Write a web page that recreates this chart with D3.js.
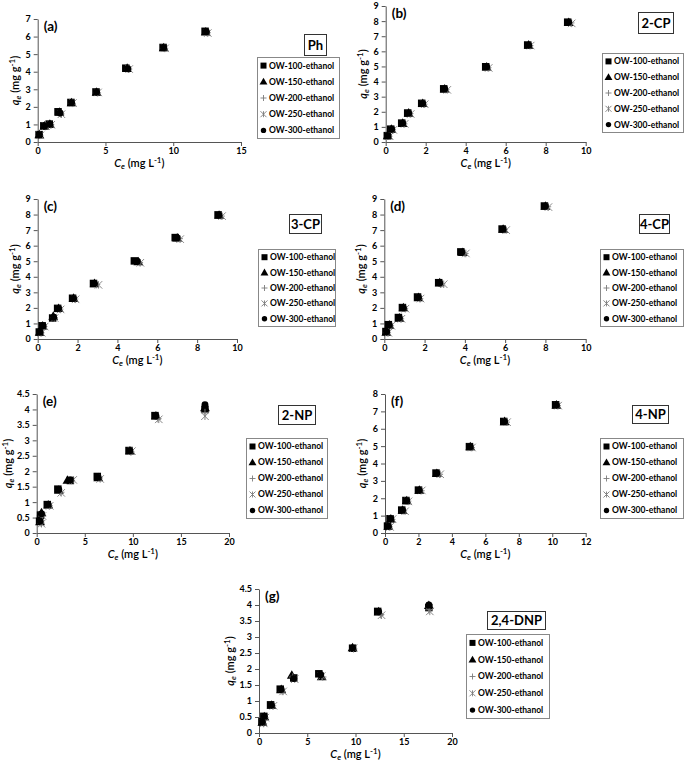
<!DOCTYPE html>
<html><head><meta charset="utf-8">
<script src="https://cdn.jsdelivr.net/npm/d3@7"></script>
<style>
html,body{margin:0;padding:0;background:#fff;}
svg{display:block;font-family:Lato,"Liberation Sans",Arial,sans-serif;}
</style></head>
<body>
<svg id="chart" width="685" height="761"></svg>
<script>
// ---------- data ----------
const seriesNames = ["OW-100-ethanol","OW-150-ethanol","OW-200-ethanol","OW-250-ethanol","OW-300-ethanol"];
const seriesSymbols = ["square","triangle","plus","star","circle"];

// Ph
const ph100 = [[0.1,0.42],[0.45,0.92],[0.85,1.02],[1.5,1.72],[2.45,2.25],[4.3,2.85],[6.5,4.2],[9.25,5.38],[12.35,6.3]];
const ph150 = [[0.12,0.4],[0.5,0.9],[0.9,1.0],[1.6,1.68],[2.5,2.22],[4.35,2.82],[6.6,4.18],[9.3,5.35],[12.4,6.25]];
const ph200 = [[0.15,0.38],[0.55,0.88],[0.95,0.98],[1.7,1.6],[2.55,2.2],[4.4,2.8],[6.7,4.15],[9.35,5.33],[12.5,6.22]];
const ph250 = [[0.2,0.38],[0.6,0.9],[1.0,0.98],[1.75,1.58],[2.6,2.22],[4.45,2.82],[6.75,4.15],[9.4,5.33],[12.55,6.2]];
const ph300 = [[0.12,0.41],[0.5,0.9],[0.9,1.01],[1.65,1.65],[2.5,2.24],[4.35,2.84],[6.65,4.17],[9.3,5.36],[12.45,6.27]];
// 2-CP
const cp2_100 = [[0.08,0.42],[0.25,0.85],[0.8,1.25],[1.1,1.92],[1.8,2.56],[2.9,3.52],[5.0,4.98],[7.1,6.42],[9.1,7.93]];
const cp2_150 = [[0.1,0.4],[0.28,0.83],[0.85,1.22],[1.15,1.9],[1.85,2.53],[2.95,3.5],[5.05,4.95],[7.15,6.4],[9.15,7.9]];
const cp2_200 = [[0.15,0.38],[0.33,0.8],[0.9,1.2],[1.2,1.88],[1.9,2.5],[3.0,3.47],[5.1,4.92],[7.2,6.38],[9.25,7.88]];
const cp2_250 = [[0.2,0.38],[0.38,0.8],[0.95,1.2],[1.25,1.85],[1.95,2.5],[3.08,3.45],[5.15,4.9],[7.25,6.38],[9.3,7.85]];
const cp2_300 = [[0.12,0.41],[0.3,0.84],[0.85,1.24],[1.15,1.91],[1.85,2.55],[2.95,3.51],[5.05,4.97],[7.15,6.41],[9.15,7.92]];
// 3-CP
const cp3_100 = [[0.08,0.45],[0.22,0.85],[0.75,1.35],[1.0,1.97],[1.75,2.62],[2.8,3.57],[4.85,5.02],[6.9,6.52],[9.05,7.98]];
const cp3_150 = [[0.1,0.42],[0.25,0.83],[0.78,1.45],[1.05,1.95],[1.8,2.6],[2.85,3.55],[5.05,4.95],[7.0,6.48],[9.1,7.95]];
const cp3_200 = [[0.15,0.4],[0.3,0.8],[0.82,1.38],[1.1,1.92],[1.85,2.57],[2.95,3.5],[5.1,4.92],[7.1,6.45],[9.2,7.9]];
const cp3_250 = [[0.2,0.4],[0.35,0.8],[0.85,1.35],[1.15,1.9],[1.9,2.55],[3.05,3.48],[5.15,4.9],[7.15,6.42],[9.25,7.9]];
const cp3_300 = [[0.12,0.44],[0.27,0.85],[0.8,1.4],[1.05,1.96],[1.8,2.6],[2.85,3.56],[5.0,4.98],[7.0,6.5],[9.1,7.96]];
// 4-CP
const cp4_100 = [[0.08,0.48],[0.2,0.92],[0.7,1.38],[0.9,2.02],[1.65,2.7],[2.7,3.62],[3.8,5.6],[5.85,7.07],[7.95,8.55]];
const cp4_150 = [[0.1,0.42],[0.25,0.88],[0.75,1.33],[0.95,2.0],[1.7,2.65],[2.75,3.6],[3.9,5.55],[5.9,7.05],[8.0,8.52]];
const cp4_200 = [[0.15,0.4],[0.3,0.85],[0.8,1.3],[1.0,1.97],[1.75,2.6],[2.85,3.55],[4.0,5.5],[5.95,7.02],[8.1,8.5]];
const cp4_250 = [[0.2,0.4],[0.35,0.85],[0.85,1.3],[1.05,1.95],[1.8,2.6],[2.95,3.52],[4.05,5.5],[6.05,7.0],[8.15,8.48]];
const cp4_300 = [[0.12,0.46],[0.25,0.9],[0.75,1.36],[0.95,2.0],[1.7,2.67],[2.75,3.6],[3.85,5.58],[5.9,7.06],[8.0,8.53]];
// 2-NP
const np2_100 = [[0.3,0.38],[0.4,0.58],[1.1,0.92],[2.2,1.42],[3.5,1.7],[6.3,1.83],[9.6,2.67],[12.3,3.8],[17.5,4.0]];
const np2_150 = [[0.35,0.36],[0.5,0.65],[1.2,0.9],[2.3,1.38],[3.2,1.7],[6.4,1.78],[9.7,2.65],[12.4,3.78],[17.5,4.05]];
const np2_200 = [[0.45,0.32],[0.55,0.55],[1.3,0.88],[2.5,1.32],[3.6,1.7],[6.5,1.78],[9.8,2.62],[12.6,3.7],[17.5,3.9]];
const np2_250 = [[0.5,0.3],[0.6,0.55],[1.35,0.88],[2.55,1.3],[3.8,1.72],[6.6,1.75],[9.9,2.65],[12.7,3.68],[17.5,3.78]];
const np2_300 = [[0.35,0.38],[0.5,0.62],[1.2,0.92],[2.3,1.4],[3.5,1.72],[6.4,1.8],[9.7,2.66],[12.4,3.79],[17.5,4.15]];
// 4-NP
const np4_100 = [[0.15,0.4],[0.3,0.82],[1.0,1.32],[1.25,1.87],[2.0,2.47],[3.05,3.45],[5.05,4.97],[7.1,6.42],[10.2,7.38]];
const np4_150 = [[0.2,0.38],[0.35,0.8],[1.05,1.3],[1.3,1.85],[2.05,2.45],[3.1,3.42],[5.1,4.95],[7.15,6.4],[10.25,7.35]];
const np4_200 = [[0.25,0.35],[0.4,0.78],[1.1,1.28],[1.35,1.83],[2.15,2.43],[3.25,3.38],[5.15,4.92],[7.25,6.38],[10.3,7.33]];
const np4_250 = [[0.3,0.35],[0.45,0.8],[1.2,1.25],[1.4,1.82],[2.2,2.45],[3.3,3.38],[5.2,4.92],[7.3,6.38],[10.35,7.33]];
const np4_300 = [[0.2,0.39],[0.35,0.82],[1.05,1.31],[1.3,1.86],[2.05,2.46],[3.1,3.44],[5.1,4.96],[7.15,6.41],[10.25,7.36]];
// 2,4-DNP
const dnp_100 = [[0.3,0.35],[0.5,0.52],[1.2,0.88],[2.2,1.37],[3.6,1.72],[6.2,1.85],[9.7,2.65],[12.3,3.8],[17.6,3.92]];
const dnp_150 = [[0.35,0.33],[0.55,0.5],[1.3,0.86],[2.3,1.35],[3.4,1.8],[6.5,1.75],[9.7,2.66],[12.4,3.78],[17.6,3.98]];
const dnp_200 = [[0.45,0.3],[0.6,0.48],[1.4,0.85],[2.4,1.3],[3.5,1.75],[6.6,1.75],[9.8,2.63],[12.6,3.7],[17.6,3.85]];
const dnp_250 = [[0.5,0.3],[0.65,0.48],[1.5,0.85],[2.5,1.3],[3.7,1.68],[6.5,1.78],[9.8,2.65],[12.7,3.68],[17.7,3.8]];
const dnp_300 = [[0.35,0.34],[0.55,0.52],[1.3,0.87],[2.3,1.36],[3.6,1.7],[6.4,1.82],[9.7,2.66],[12.4,3.79],[17.6,4.0]];

const panelLabels = ["(a)","(b)","(c)","(d)","(e)","(f)","(g)"];
const compoundNames = ["Ph","2-CP","3-CP","4-CP","2-NP","4-NP","2,4-DNP"];
const xMaxes = [15,10,10,10,20,12,20];
const xSteps = [5,2,2,2,5,2,5];
const yMaxes = [7,9,9,9,4.5,8,4.5];
const ySteps = [1,1,1,1,0.5,1,0.5];
const panelData = [
  [ph100,ph150,ph200,ph250,ph300],
  [cp2_100,cp2_150,cp2_200,cp2_250,cp2_300],
  [cp3_100,cp3_150,cp3_200,cp3_250,cp3_300],
  [cp4_100,cp4_150,cp4_200,cp4_250,cp4_300],
  [np2_100,np2_150,np2_200,np2_250,np2_300],
  [np4_100,np4_150,np4_200,np4_250,np4_300],
  [dnp_100,dnp_150,dnp_200,dnp_250,dnp_300]
];

// ---------- layout ----------
const layouts = [
  {l:37.7,r:241,t:19,b:142, title:[304,34,22,21], legend:[257,57,82,81]},
  {l:385.7,r:585.7,t:6,b:142, title:[638,12,35,21], legend:[602,53,81,79]},
  {l:37.7,r:237,t:199,b:339, title:[289,214,32,19], legend:[258,249,77,77]},
  {l:384.3,r:585.7,t:199,b:339, title:[639,214,30,19], legend:[600,249,83,77]},
  {l:36.7,r:229,t:394,b:533, title:[278,405,37,19], legend:[246,438,81,80]},
  {l:385,r:585.7,t:394,b:533, title:[632,405,36,18], legend:[600,438,83,80]},
  {l:259,r:452,t:589,b:733, title:[487,611,58,18], legend:[466,634,83,84]}
];

const svg = d3.select("#chart");
const grey = "#7a7a7a";

function drawMarker(g, type, x, y, s) {
  if (type === "square") {
    g.append("rect").attr("x", x - s/2).attr("y", y - s/2).attr("width", s).attr("height", s).attr("fill", "#000");
  } else if (type === "triangle") {
    g.append("path").attr("d", d3.symbol(d3.symbolTriangle, s*s*0.75)()).attr("transform", `translate(${x},${y+0.5})`).attr("fill", "#000");
  } else if (type === "circle") {
    g.append("circle").attr("cx", x).attr("cy", y).attr("r", s/2 - 0.3).attr("fill", "#000");
  } else if (type === "plus") {
    const h = s/2;
    g.append("path").attr("d", `M${x-h},${y}H${x+h}M${x},${y-h}V${y+h}`).attr("stroke", grey).attr("stroke-width", 0.9).attr("fill", "none");
  } else if (type === "star") {
    const h = s/2;
    g.append("path").attr("d", `M${x-h},${y-h}L${x+h},${y+h}M${x+h},${y-h}L${x-h},${y+h}M${x},${y-h}V${y+h}`)
      .attr("stroke", grey).attr("stroke-width", 0.9).attr("fill", "none");
  }
}

panelData.forEach((series, i) => {
  const L = layouts[i];
  const g = svg.append("g");
  const x = d3.scaleLinear().domain([0, xMaxes[i]]).range([L.l, L.r]);
  const y = d3.scaleLinear().domain([0, yMaxes[i]]).range([L.b, L.t]);
  const xt = d3.range(0, xMaxes[i] + 1e-9, xSteps[i]);
  const yt = d3.range(0, yMaxes[i] + 1e-9, ySteps[i]);

  const xa = g.append("g").attr("transform", `translate(0,${L.b})`)
    .call(d3.axisBottom(x).tickValues(xt).tickSize(4).tickSizeOuter(0).tickPadding(2).tickFormat(d3.format("~g")));
  const ya = g.append("g").attr("transform", `translate(${L.l},0)`)
    .call(d3.axisLeft(y).tickValues(yt).tickSize(4).tickSizeOuter(0).tickPadding(3).tickFormat(d3.format("~g")));
  [xa, ya].forEach(a => {
    a.select(".domain").attr("stroke", "#555").attr("stroke-width", 1);
    a.selectAll(".tick line").attr("stroke", "#555");
    a.selectAll(".tick text").attr("fill", "#000").attr("font-size", 9).attr("font-weight", "bold").attr("font-family", "Lato, sans-serif");
  });

  series.forEach((pts, si) => {
    const sg = g.append("g");
    pts.forEach(p => drawMarker(sg, seriesSymbols[si], x(p[0]), y(p[1]), 7.5));
  });

  g.append("text").attr("x", L.l + 6).attr("y", L.t + 12).attr("font-size", 13.5).attr("font-weight", "bold").text(panelLabels[i]);

  const xl = g.append("text").attr("x", (L.l + L.r) / 2).attr("y", L.b + 25).attr("text-anchor", "middle").attr("font-size", 11).attr("font-weight", 600);
  xl.append("tspan").attr("font-style", "italic").text("C");
  xl.append("tspan").attr("font-style", "italic").attr("font-size", 8).attr("dy", 2).text("e");
  xl.append("tspan").attr("dy", -2).text(" (mg L");
  xl.append("tspan").attr("font-size", 8).attr("dy", -4).text("-1");
  xl.append("tspan").attr("dy", 4).text(")");

  const labX = L.l - (ySteps[i] < 1 ? 29 : 23);
  const yl = g.append("text").attr("transform", `translate(${labX},${(L.t + L.b) / 2}) rotate(-90)`).attr("text-anchor", "middle").attr("font-size", 11).attr("font-weight", 600).attr("dy", "0.35em");
  yl.append("tspan").attr("font-style", "italic").text("q");
  yl.append("tspan").attr("font-style", "italic").attr("font-size", 8).attr("dy", 2).text("e");
  yl.append("tspan").attr("dy", -2).text(" (mg g");
  yl.append("tspan").attr("font-size", 8).attr("dy", -4).text("-1");
  yl.append("tspan").attr("dy", 4).text(")");

  const T = L.title;
  g.append("rect").attr("x", T[0] + 0.5).attr("y", T[1] + 0.5).attr("width", T[2]).attr("height", T[3]).attr("fill", "#fff").attr("stroke", "#333").attr("stroke-width", 1);
  g.append("text").attr("x", T[0] + 0.5 + T[2] / 2).attr("y", T[1] + T[3] / 2 + 0.5).attr("dy", "0.36em").attr("text-anchor", "middle")
    .attr("font-size", 13).attr("font-weight", "bold").text(compoundNames[i]);

  const G = L.legend;
  g.append("rect").attr("x", G[0] + 0.5).attr("y", G[1] + 0.5).attr("width", G[2]).attr("height", G[3]).attr("fill", "#fff").attr("stroke", "#888").attr("stroke-width", 1);
  const rowH = G[3] / 5;
  seriesNames.forEach((nm, si) => {
    const cy = G[1] + rowH * (si + 0.5) + 0.5;
    drawMarker(g, seriesSymbols[si], G[0] + 6.5, cy, 6);
    g.append("text").attr("x", G[0] + 12).attr("y", cy).attr("dy", "0.35em").attr("font-size", 8.5).attr("font-weight", "bold").text(nm);
  });
});
</script>
</body></html>
